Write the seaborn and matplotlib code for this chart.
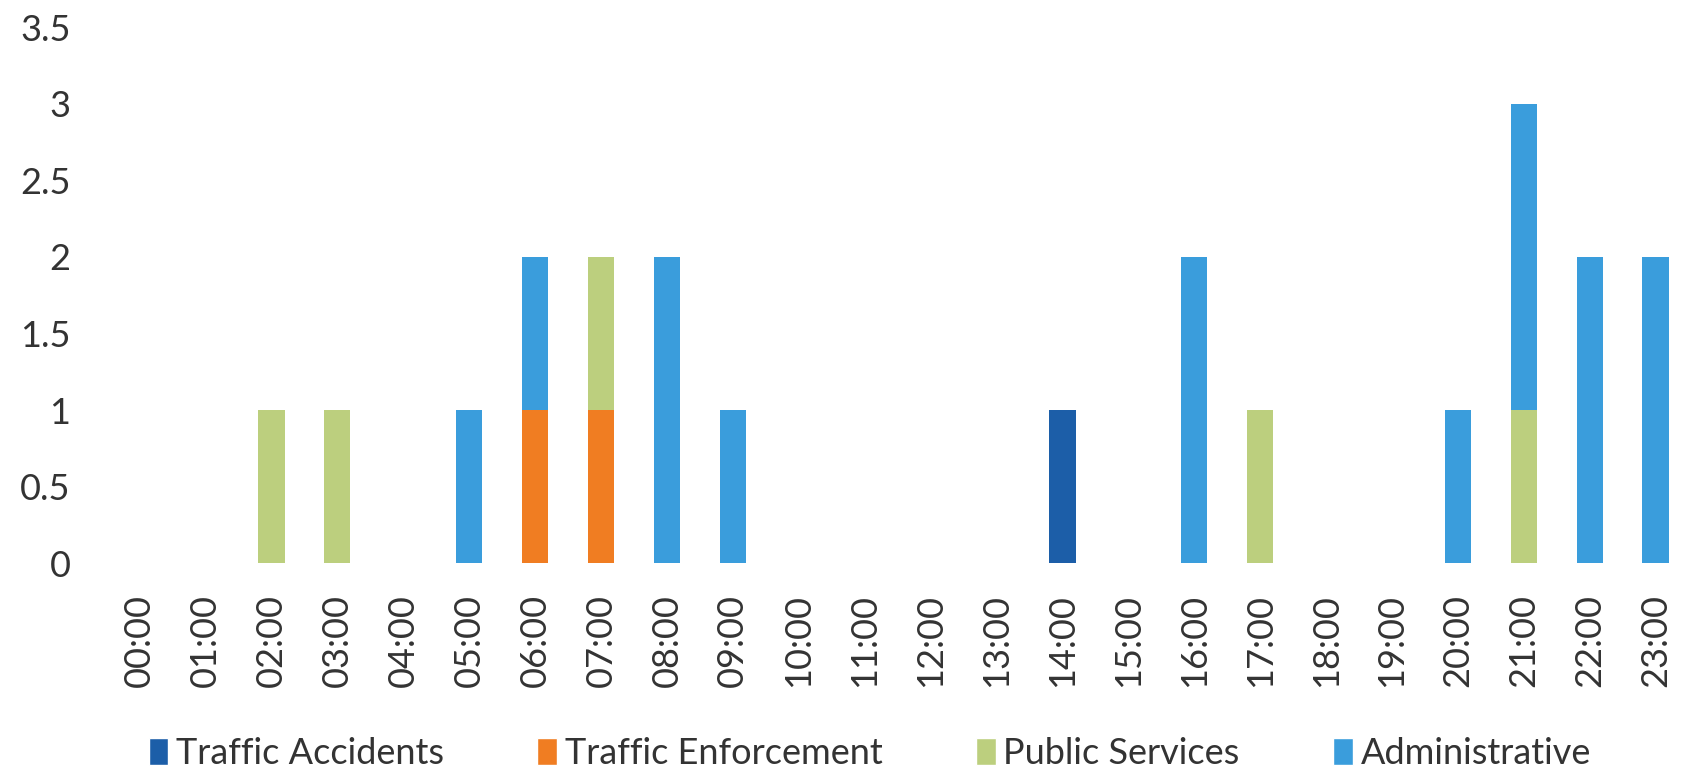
import numpy as np
import pandas as pd
import matplotlib

matplotlib.use("Agg")
import matplotlib.pyplot as plt
import seaborn as sns
from matplotlib.patches import Patch

# ===================== 数据 =====================
hours = [f"{h:02d}:00" for h in range(24)]
categories = ["Traffic Accidents", "Traffic Enforcement", "Public Services", "Administrative"]
colors = ["#1c5ea8", "#f07d22", "#bccf7e", "#3a9ddc"]

traffic_accidents = [0, 0, 0, 0, 0, 0, 0, 0, 0, 0, 0, 0, 0, 0, 1, 0, 0, 0, 0, 0, 0, 0, 0, 0]
traffic_enforcement = [0, 0, 0, 0, 0, 0, 1, 1, 0, 0, 0, 0, 0, 0, 0, 0, 0, 0, 0, 0, 0, 0, 0, 0]
public_services = [0, 0, 1, 1, 0, 0, 0, 1, 0, 0, 0, 0, 0, 0, 0, 0, 0, 1, 0, 0, 0, 1, 0, 0]
administrative = [0, 0, 0, 0, 0, 1, 1, 0, 2, 1, 0, 0, 0, 0, 0, 0, 2, 0, 0, 0, 1, 2, 2, 2]

df = pd.DataFrame({
    "hour": hours,
    "Traffic Accidents": traffic_accidents,
    "Traffic Enforcement": traffic_enforcement,
    "Public Services": public_services,
    "Administrative": administrative,
})

# 累计高度（从下往上堆叠）
cum = df[categories].cumsum(axis=1)

# ===================== 绘图 =====================
sns.set_theme(style="white")
plt.rcParams["font.family"] = ["Lato", "DejaVu Sans"]

fig = plt.figure(figsize=(16.92, 7.79), dpi=100)
ax = fig.add_axes([0.063, 0.277, 0.935, 0.688])

# 先画最高的累计层，再依次覆盖下层
for cat, col in reversed(list(zip(categories, colors))):
    sns.barplot(x=df["hour"], y=cum[cat], color=col, width=0.4,
                saturation=1, linewidth=0, edgecolor="none", ax=ax, order=hours)

ax.set_ylim(0, 3.5)
ax.set_yticks(np.arange(0, 3.51, 0.5))
ax.set_yticklabels(["0", "0.5", "1", "1.5", "2", "2.5", "3", "3.5"])
ax.set_xlim(-0.5, 23.5)
ax.set_xlabel("")
ax.set_ylabel("")
ax.tick_params(axis="y", labelsize=26, colors="#333333", pad=26, length=0)
ax.tick_params(axis="x", labelsize=26, colors="#333333", rotation=90, pad=22, length=0)
sns.despine(ax=ax, left=True, bottom=True)

handles = [Patch(facecolor=c, label=l) for l, c in zip(categories, colors)]
fig.legend(handles=handles, loc="lower center", bbox_to_anchor=(0.514, -0.03), ncol=4,
           frameon=False, fontsize=26, handlelength=0.55, handleheight=0.75,
           handletextpad=0.2, columnspacing=2.6, labelcolor="#333333")

fig.savefig("out.png", dpi=100)
plt.close(fig)
